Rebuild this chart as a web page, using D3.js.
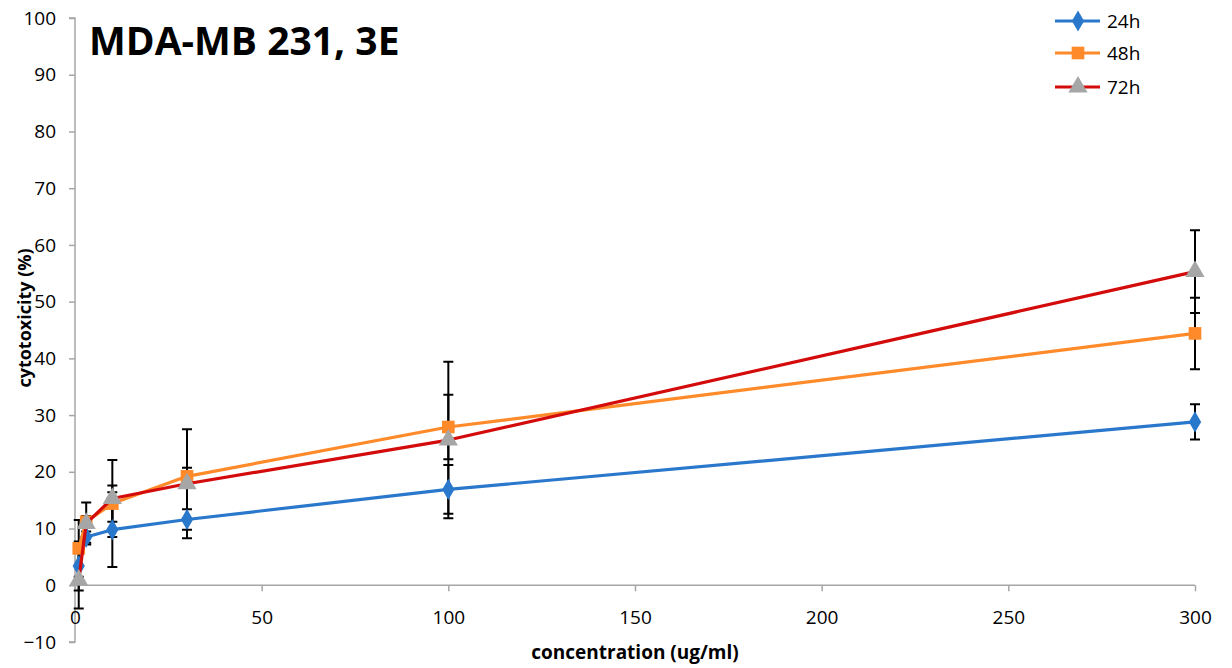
<!DOCTYPE html>
<html>
<head>
<meta charset="utf-8">
<script src="https://cdn.jsdelivr.net/npm/d3@7"></script>
<style>
  html, body { margin: 0; padding: 0; background: #fff; }
  svg { display: block; }
  text { font-family: "Open Sans", "DejaVu Sans", sans-serif; fill: #000; }
</style>
</head>
<body>
<svg id="chart" width="1232" height="668"></svg>
<script>
// Concentrations (ug/ml) and mean cytotoxicity (%) with error (±) per exposure time
const concentrations = [1, 3, 10, 30, 100, 300];
const tox24h = [3.4, 8.5, 9.8, 11.6, 16.9, 28.8];
const err24h = [4.3, 1.0, 6.6, 1.8, 4.3, 3.1];
const tox48h = [6.5, 11.2, 14.4, 19.2, 27.9, 44.4];
const err48h = [5.0, 1.0, 3.2, 1.5, 5.7, 6.3];
const tox72h = [0.9, 10.9, 15.3, 17.9, 25.6, 55.3];
const err72h = [5.0, 3.7, 6.8, 9.6, 13.8, 7.3];
const seriesNames = ["24h", "48h", "72h"];
const xTicks = [0, 50, 100, 150, 200, 250, 300];
const yTicks = [-10, 0, 10, 20, 30, 40, 50, 60, 70, 80, 90, 100];

const series = [
  { name: seriesNames[0], values: tox24h, errors: err24h, line: "#2a78cc", fill: "#2a78cc", shape: "diamond" },
  { name: seriesNames[1], values: tox48h, errors: err48h, line: "#ff8a2a", fill: "#ff8a2a", shape: "square" },
  { name: seriesNames[2], values: tox72h, errors: err72h, line: "#d40b0b", fill: "#a6a6a6", shape: "triangle" }
];

const svg = d3.select("#chart");
const x = d3.scaleLinear().domain([0, 300]).range([75, 1195]);
const y = d3.scaleLinear().domain([-10, 100]).range([642, 18]);
const axisColor = "#a6a6a6";

// Y axis: vertical line with outward ticks and labels
const yAxis = svg.append("g").attr("transform", `translate(${x(0)},0)`)
  .call(d3.axisLeft(y).tickValues(yTicks).tickSize(6).tickPadding(13).tickFormat(d3.format("d")));
yAxis.select(".domain").attr("stroke", axisColor).attr("stroke-width", 1.5).attr("d", `M-6,${y(100)}H0V${y(-10)}H-6`);
yAxis.selectAll(".tick line").attr("stroke", axisColor).attr("stroke-width", 1.5);
yAxis.selectAll(".tick text").attr("font-size", 19).attr("font-family", "Open Sans").attr("fill", "#000");

// X axis: drawn along the zero line
const xAxis = svg.append("g").attr("transform", `translate(0,${y(0)})`)
  .call(d3.axisBottom(x).tickValues(xTicks).tickSize(6).tickPadding(19).tickFormat(d3.format("d")));
xAxis.select(".domain").attr("stroke", axisColor).attr("stroke-width", 1.5).attr("d", `M${x(0)},0H${x(300)}`);
xAxis.selectAll(".tick line").attr("stroke", axisColor).attr("stroke-width", 1.5);
xAxis.selectAll(".tick text").attr("font-size", 19).attr("font-family", "Open Sans").attr("fill", "#000");

// Axis titles
svg.append("text")
  .attr("x", 635).attr("y", 659)
  .attr("text-anchor", "middle")
  .attr("font-size", 19).attr("font-weight", "bold")
  .text("concentration (ug/ml)");
svg.append("text")
  .attr("transform", `translate(31,318) rotate(-90)`)
  .attr("text-anchor", "middle")
  .attr("font-size", 18).attr("font-weight", "bold")
  .text("cytotoxicity (%)");

// Chart title
svg.append("text")
  .attr("x", 89).attr("y", 55)
  .attr("font-size", 39).attr("font-weight", "bold")
  .text("MDA-MB 231, 3E");

// Error bars (drawn beneath lines and markers)
const capHalf = 5;
const errG = svg.append("g").attr("stroke", "#000").attr("stroke-width", 2).attr("fill", "none");
series.forEach(s => {
  concentrations.forEach((c, i) => {
    const cx = x(c), top = y(s.values[i] + s.errors[i]), bot = y(s.values[i] - s.errors[i]);
    errG.append("path")
      .attr("d", `M${cx},${top}V${bot}M${cx - capHalf},${top}H${cx + capHalf}M${cx - capHalf},${bot}H${cx + capHalf}`);
  });
});

// Marker shapes
const symbolFor = {
  diamond: d3.symbol().type(d3.symbolDiamond).size(130),
  square: d3.symbol().type(d3.symbolSquare).size(160),
  triangle: d3.symbol().type(d3.symbolTriangle).size(160)
};

const line = d3.line().x((d, i) => x(concentrations[i])).y(d => y(d));

series.forEach(s => {
  const g = svg.append("g");
  g.append("path")
    .datum(s.values)
    .attr("d", line)
    .attr("fill", "none")
    .attr("stroke", s.line)
    .attr("stroke-width", 3.2)
    .attr("stroke-linejoin", "round");
  g.selectAll("path.m")
    .data(s.values)
    .join("path")
    .attr("class", "m")
    .attr("d", symbolFor[s.shape])
    .attr("transform", (d, i) => `translate(${x(concentrations[i])},${y(d)})`)
    .attr("fill", s.fill);
});

// Legend
const legendY = [21, 53, 87];
const legend = svg.append("g");
series.forEach((s, i) => {
  const ly = legendY[i];
  legend.append("line")
    .attr("x1", 1055).attr("x2", 1100).attr("y1", ly).attr("y2", ly)
    .attr("stroke", s.line).attr("stroke-width", 3.2);
  legend.append("path")
    .attr("d", symbolFor[s.shape])
    .attr("transform", `translate(1078,${ly})`)
    .attr("fill", s.fill);
  legend.append("text")
    .attr("x", 1107).attr("y", ly + 7)
    .attr("font-size", 19)
    .text(s.name);
});
</script>
</body>
</html>
